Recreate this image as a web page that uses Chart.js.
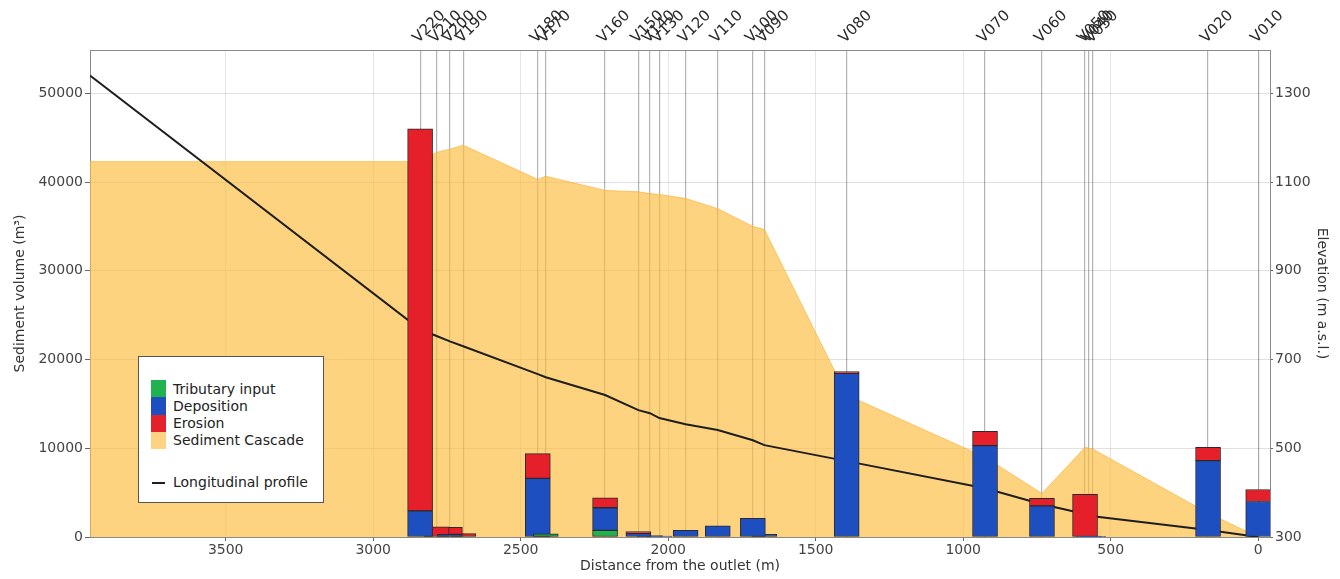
<!DOCTYPE html>
<html>
<head>
<meta charset="utf-8">
<script src="https://cdn.jsdelivr.net/npm/chart.js@4.4.1/dist/chart.umd.min.js"></script>
<style>
  html, body { margin: 0; padding: 0; background: #ffffff; }
  #wrap { position: relative; width: 1340px; height: 579px; overflow: hidden; }
  #c { position: absolute; left: 0; top: 0; }
  #legendBox { position: absolute; left: 138px; top: 356px; width: 184px; height: 145px;
               border: 1.5px solid #555; background: #ffffff; }
  .lg-sw { position: absolute; width: 15px; }
  .lg-tx { position: absolute; font-family: 'DejaVu Sans', sans-serif; font-size: 14px;
           color: #222; white-space: nowrap; line-height: 17px; }
  .lg-line { position: absolute; height: 2px; background: #1e1e1e; }
</style>
</head>
<body>
<div id="wrap">
  <canvas id="c" width="1340" height="579"></canvas>
  <div id="legendBox"></div>
</div>
<script>
// ---------------- data ----------------
const stations  = ['V010','V020','V030','V040','V050','V060','V070','V080','V090','V100','V110',
                   'V120','V130','V140','V150','V160','V170','V180','V190','V200','V210','V220'];
const distance  = [0, 170, 560, 574, 587, 733, 926, 1395, 1674, 1713, 1832,
                   1941, 2030, 2062, 2101, 2214, 2415, 2442, 2695, 2740, 2785, 2841];
const tributary = [null, null, null, null, null, null, null, null, null, null, null,
                   null, null, null, null, 750, 350, null, null, null, null, null];
const deposition= [4000, 8600, 80, 100, null, 3500, 10300, 18450, 300, 2100, 1250,
                   750, 100, 150, 420, 2550, null, 6600, null, 300, null, 2950];
const erosion   = [1350, 1500, null, null, 4800, 850, 1600, 200, null, null, null,
                   null, null, null, 200, 1100, null, 2800, 380, 800, 1150, 43050];
const cascade   = [0, 2700, 9900, 10000, 10100, 4900, 9000, 16000, 34650, 35000, 37000,
                   38150, 38600, 38700, 38900, 39050, 40650, 40300, 44150, 43700, 43350, 42300];
const elevation = [300, 316, 347, 350, 352, 374, 410, 471, 507, 518, 541,
                   554, 568, 579, 586, 620, 660, 667, 730, 741, 753, 768];
const upstreamDistance  = 3960;
const upstreamCascade   = 42300;
const upstreamElevation = 1340;

const distanceTicks  = [0, 500, 1000, 1500, 2000, 2500, 3000, 3500];
const volumeTicks    = [0, 10000, 20000, 30000, 40000, 50000];
const elevationTicks = [300, 500, 700, 900, 1100, 1300];

// ---------------- styling ----------------
const FONT = 'DejaVu Sans';
const COL = {
  trib: '#20b24e',
  dep: '#1e4fc0',
  ero: '#e5202a',
  cascadeFill: 'rgba(253,188,60,0.66)',
  cascadeLegend: '#fdd282',
  profile: '#1e1e1e'
};

function pts(values) {
  return distance.map((d, i) => ({ x: d, y: values[i] }));
}

const barCommon = {
  type: 'bar', xAxisID: 'x', yAxisID: 'y', order: 1,
  barThickness: 25, borderColor: '#2a2a2a', borderWidth: 1, borderSkipped: false,
  grouped: false
};

const datasets = [
  Object.assign({ label: 'Tributary input', data: pts(tributary), backgroundColor: COL.trib }, barCommon),
  Object.assign({ label: 'Deposition', data: pts(deposition), backgroundColor: COL.dep }, barCommon),
  Object.assign({ label: 'Erosion', data: pts(erosion), backgroundColor: COL.ero }, barCommon),
  {
    type: 'line', label: 'Sediment Cascade', xAxisID: 'x', yAxisID: 'y', order: 3,
    data: pts(cascade).concat([{ x: upstreamDistance, y: upstreamCascade }]),
    backgroundColor: COL.cascadeFill, borderColor: 'rgba(250,180,55,0.7)', borderWidth: 1,
    fill: 'origin', pointRadius: 0, tension: 0
  },
  {
    type: 'line', label: 'Longitudinal profile', xAxisID: 'x', yAxisID: 'y2', order: 2,
    data: pts(elevation).concat([{ x: upstreamDistance, y: upstreamElevation }]),
    borderColor: COL.profile, borderWidth: 2, fill: false, pointRadius: 0, tension: 0
  }
];

const yMax = 54880;
const y2Min = 300;
const y2Max = y2Min + yMax / 50;

const tickFont = { family: FONT, size: 14 };
const titleFont = { family: FONT, size: 14 };

new Chart(document.getElementById('c'), {
  data: { datasets },
  options: {
    responsive: false,
    animation: false,
    devicePixelRatio: 1,
    layout: { padding: 0 },
    plugins: { legend: { display: false }, tooltip: { enabled: false } },
    scales: {
      x: {
        type: 'linear', position: 'bottom', reverse: true, min: -40, max: upstreamDistance, stacked: true,
        offset: false,
        afterBuildTicks: s => { s.ticks = distanceTicks.map(v => ({ value: v })); },
        afterFit: s => { s.height = 42; },
        ticks: { callback: v => String(v), color: '#444', font: tickFont, padding: 1,
                 maxRotation: 0, minRotation: 0, autoSkip: false },
        grid: { offset: false, color: 'rgba(0,0,0,0.10)', tickColor: '#666', tickLength: 4, lineWidth: 1 },
        border: { color: '#8a8a8a', width: 1 },
        title: { display: true, text: 'Distance from the outlet (m)', color: '#333', font: titleFont,
                 padding: { top: 0, bottom: 4 } }
      },
      x2: {
        type: 'linear', position: 'top', reverse: true, min: -40, max: upstreamDistance,
        offset: false,
        afterBuildTicks: s => { s.ticks = distance.map(v => ({ value: v })); },
        afterFit: s => { s.height = 50; },
        ticks: { callback: (v, i) => stations[i], autoSkip: false, minRotation: 45, maxRotation: 45,
                 padding: 3, labelOffset: 8, color: '#2a2a2a', font: { family: FONT, size: 15 } },
        grid: { offset: false, color: 'rgba(105,105,105,0.5)', lineWidth: 1.2, drawTicks: false },
        border: { color: '#8a8a8a', width: 1 }
      },
      y: {
        type: 'linear', position: 'left', min: 0, max: yMax, stacked: true,
        afterBuildTicks: s => { s.ticks = volumeTicks.map(v => ({ value: v })); },
        afterFit: s => { s.width = 90; },
        ticks: { callback: v => String(v), color: '#444', font: tickFont, padding: 2 },
        grid: { color: 'rgba(0,0,0,0.12)', tickColor: '#666', tickLength: 5 },
        border: { color: '#8a8a8a', width: 1 },
        title: { display: true, text: 'Sediment volume (m³)', color: '#333', font: titleFont,
                 padding: { top: 12, bottom: 0 } }
      },
      y2: {
        type: 'linear', position: 'right', min: y2Min, max: y2Max,
        afterBuildTicks: s => { s.ticks = elevationTicks.map(v => ({ value: v })); },
        afterFit: s => { s.width = 70; },
        ticks: { callback: v => String(v), color: '#444', font: tickFont, padding: 2 },
        grid: { drawOnChartArea: false, tickColor: '#666', tickLength: 3 },
        border: { color: '#8a8a8a', width: 1 },
        title: { display: true, text: 'Elevation (m a.s.l.)', color: '#333', font: titleFont,
                 padding: { top: 10, bottom: 0 } }
      }
    }
  }
});

// ---------------- legend (HTML) ----------------
const wrap = document.getElementById('wrap');
const legendItems = [
  { label: datasets[0].label, color: COL.trib },
  { label: datasets[1].label, color: COL.dep },
  { label: datasets[2].label, color: COL.ero },
  { label: datasets[3].label, color: COL.cascadeLegend }
];
legendItems.forEach((it, i) => {
  const top = 380 + i * 17.3;
  const sw = document.createElement('div');
  sw.className = 'lg-sw';
  sw.style.left = '151px'; sw.style.top = top + 'px'; sw.style.height = '17.3px';
  sw.style.background = it.color;
  wrap.appendChild(sw);
  const tx = document.createElement('div');
  tx.className = 'lg-tx';
  tx.style.left = '173px'; tx.style.top = (top + 0.5) + 'px';
  tx.textContent = it.label;
  wrap.appendChild(tx);
});
const ln = document.createElement('div');
ln.className = 'lg-line';
ln.style.left = '152px'; ln.style.top = '482px'; ln.style.width = '13px';
wrap.appendChild(ln);
const lt = document.createElement('div');
lt.className = 'lg-tx';
lt.style.left = '173px'; lt.style.top = '474px';
lt.textContent = datasets[4].label;
wrap.appendChild(lt);
</script>
</body>
</html>
